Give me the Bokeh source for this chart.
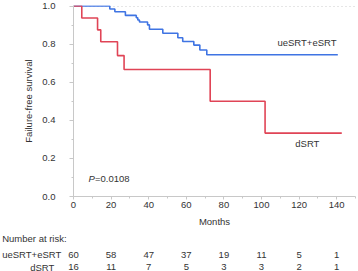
from bokeh.plotting import figure
from bokeh.layouts import column
from bokeh.models import Range1d, FixedTicker, Label, CustomJSTickFormatter
from bokeh.core.properties import value
from bokeh.embed import file_html
from bokeh.resources import INLINE

# ---- data ----
blue_times = [0, 19.3, 22.0, 27.6, 33.4, 34.2, 35.1, 39.4, 40.4, 47.5, 55.5, 58.1, 64.0, 67.2, 70.9, 140.6]
blue_surv = [1.0, 0.985, 0.970, 0.951, 0.939, 0.927, 0.916, 0.901, 0.878, 0.857, 0.834, 0.814, 0.795, 0.769, 0.744, 0.744]
red_times = [0, 4.4, 12.8, 14.5, 23.4, 26.9, 72.7, 101.9, 142.7]
red_surv = [1.0, 0.9375, 0.875, 0.8125, 0.74, 0.667, 0.5, 0.333, 0.333]

risk_times = [0, 20, 40, 60, 80, 100, 120, 140]
risk_ue = [60, 58, 47, 37, 19, 11, 5, 1]
risk_d = [16, 11, 7, 5, 3, 3, 2, 1]
group_names = ["ueSRT+eSRT", "dSRT"]
x_ticks = [0, 20, 40, 60, 80, 100, 120, 140]
y_ticks = [0.0, 0.2, 0.4, 0.6, 0.8, 1.0]

BLUE = "#3f74e3"
RED = "#e04456"
TXT = "#333333"
FONT = "Liberation Sans"
FS = "9.5px"

W = 358
LEFT = 73
RIGHT = 3
XMAX = 150
PPX = (W - LEFT - RIGHT) / XMAX  # pixels per month

p = figure(width=W, height=231, output_backend="svg", toolbar_location=None,
           x_range=Range1d(0, XMAX), y_range=Range1d(0, 1.003),
           min_border_left=LEFT, min_border_right=RIGHT, min_border_top=5, min_border_bottom=35)
p.outline_line_color = None
p.frame_align = False

p.xgrid.visible = False
p.ygrid.ticker = FixedTicker(ticks=[1.0])
p.ygrid.grid_line_color = "#cccccc"
p.ygrid.grid_line_dash = "1 3"

p.step(blue_times, blue_surv, mode="after", line_color=BLUE, line_width=1.6)
p.step(red_times, red_surv, mode="after", line_color=RED, line_width=1.6)

for ax in (p.xaxis[0], p.yaxis[0]):
    ax.axis_line_color = "#c8c8c8"
    ax.major_tick_line_color = "#c8c8c8"
    ax.minor_tick_line_color = "#c8c8c8"
    ax.major_tick_in = 0
    ax.minor_tick_in = 0
    ax.major_label_text_font = FONT
    ax.major_label_text_font_size = FS
    ax.major_label_text_color = TXT
    ax.axis_label_text_font = FONT
    ax.axis_label_text_font_size = FS
    ax.axis_label_text_color = TXT
    ax.axis_label_text_font_style = "normal"

p.xaxis.ticker = FixedTicker(ticks=x_ticks, minor_ticks=list(range(0, 151, 10)))
p.yaxis.ticker = FixedTicker(ticks=y_ticks, minor_ticks=[i / 10 for i in range(11)])
p.yaxis.formatter = CustomJSTickFormatter(code="return tick.toFixed(1);")
p.xaxis.major_tick_out = 3
p.xaxis.minor_tick_out = 2
p.xaxis.major_label_standoff = 2
p.yaxis.major_tick_out = 4
p.yaxis.minor_tick_out = 2
p.yaxis.major_label_standoff = 14
p.xaxis.axis_label = "Months"
p.xaxis.axis_label_standoff = 5
p.yaxis.axis_label = "Failure-free survival"
p.yaxis.axis_label_standoff = 5


def lab(fig, x, y, text, align="left", style="normal"):
    fig.add_layout(Label(x=x, y=y, text=text, text_font=FONT, text_font_size=FS,
                         text_color=TXT, text_align=align, text_baseline="middle",
                         text_font_style=style))


lab(p, 139.9, 0.81, group_names[0], align="right")
lab(p, 124.4, 0.278, group_names[1], align="center")
lab(p, 8.0, 0.092, "P", style="italic")
lab(p, 11.4, 0.092, "=0.0108")

# ---- number-at-risk table: a second figure sharing the month scale ----
t = figure(width=W, height=40, output_backend="svg", toolbar_location=None,
           x_axis_type=None, y_axis_type=None,
           x_range=Range1d(-LEFT / PPX, (W - LEFT) / PPX), y_range=Range1d(40, 0),
           min_border_left=0, min_border_right=0, min_border_top=0, min_border_bottom=0)
t.grid.visible = False
t.outline_line_color = None
t.frame_align = False

ROW0, ROW1, ROW2 = 7, 23, 35.5
x_left = (1.7 - LEFT) / PPX
t.text(x=[x_left], y=[ROW0], text=["Number at risk:"], text_font=value(FONT), text_font_size=FS,
       text_color=TXT, text_align="left", text_baseline="middle")
t.text(x=[x_left], y=[ROW1], text=[group_names[0]], text_font=value(FONT), text_font_size=FS,
       text_color=TXT, text_align="left", text_baseline="middle")
t.text(x=[(41.7 - LEFT) / PPX], y=[ROW2], text=[group_names[1]], text_font=value(FONT), text_font_size=FS,
       text_color=TXT, text_align="center", text_baseline="middle")
t.text(x=risk_times, y=[ROW1] * len(risk_times), text=[str(v) for v in risk_ue], text_font=value(FONT),
       text_font_size=FS, text_color=TXT, text_align="center", text_baseline="middle")
t.text(x=risk_times, y=[ROW2] * len(risk_times), text=[str(v) for v in risk_d], text_font=value(FONT),
       text_font_size=FS, text_color=TXT, text_align="center", text_baseline="middle")

layout = column(p, t, spacing=0)
open("out.html", "w").write(file_html(layout, INLINE))
